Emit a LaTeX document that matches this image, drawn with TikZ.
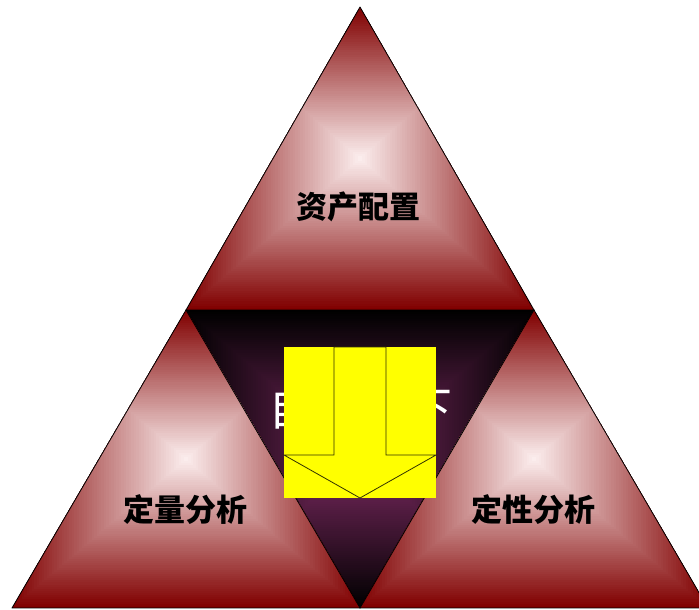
\documentclass[tikz,border=0pt]{standalone}
\usepackage{fontspec}
\newfontfamily\cjk{Noto Sans CJK SC}
\usetikzlibrary{calc}
\definecolor{edgered}{RGB}{128,0,0}
\definecolor{glow}{RGB}{253,240,240}
\definecolor{midpurple}{RGB}{125,42,98}
\definecolor{pureyellow}{RGB}{255,255,0}
\definecolor{arrowline}{RGB}{50,50,0}
% rectangular gradient clipped to a triangle:
% vertices #1 #2 #3, box corners #4 #5, centre #6, inner colour #7, outer colour #8
\newcommand\rectgrad[8]{%
  \begin{scope}
    \clip (#1) -- (#2) -- (#3) -- cycle;
    \foreach \i in {0,...,70}{%
      \pgfmathsetmacro\gradt{\i/70}%
      \pgfmathsetmacro\gradp{100*\gradt}%
      \fill[color=#7!\gradp!#8] ($(#4)!\gradt!(#6)$) rectangle ($(#5)!\gradt!(#6)$);
    }
  \end{scope}}
\tikzset{
  triedge/.style={draw=black, line width=0.8pt, line join=round},
  label/.style={font=\cjk\bfseries\fontsize{31}{31}\selectfont, text=black, inner sep=0pt},
  bigtext/.style={font=\cjk\fontsize{46}{46}\selectfont, text=white, inner sep=0pt},
  arrowfill/.style={fill=pureyellow, draw=none},
  arrowedge/.style={draw=arrowline, line width=0.8pt, line join=miter}
}
\begin{document}
\begin{tikzpicture}[x=1pt,y=-1pt]
\useasboundingbox (0,0) rectangle (699,610);
\clip (0,0) rectangle (699,610);
% vertices
\coordinate (A) at (360,7);
\coordinate (B) at (186,310);
\coordinate (C) at (534,310);
\coordinate (L) at (12,608);
\coordinate (M) at (360,608);
\coordinate (R) at (708,608);
% box corners
\coordinate (TA) at (186,7);
\coordinate (LA) at (12,310);
\coordinate (MA) at (186,310);
\coordinate (RA) at (360,310);
% centres of the gradients
\coordinate (PT) at (360,158.5);
\coordinate (PL) at (186,459);
\coordinate (PR) at (534,459);
\coordinate (PM) at (360,459);
% middle inverted triangle
\rectgrad{B}{C}{M}{MA}{R-|C}{PM}{midpurple}{black}
\draw[triedge] (B) -- (C) -- (M) -- cycle;
% red triangles
\rectgrad{A}{B}{C}{TA}{C}{PT}{glow}{edgered}
\draw[triedge] (A) -- (B) -- (C) -- cycle;
\rectgrad{B}{L}{M}{LA}{M}{PL}{glow}{edgered}
\draw[triedge] (B) -- (L) -- (M) -- cycle;
\rectgrad{C}{M}{R}{RA}{R}{PR}{glow}{edgered}
\draw[triedge] (C) -- (M) -- (R) -- cycle;
% labels
\node[label] (top) at (358,207) {资产配置};
\node[label] (left) at (185,510) {定量分析};
\node[label] (right) at (533,510) {定性分析};
\node[bigtext] (mid) at (360,408) {自上而下};
% yellow arrow
\coordinate (Y1) at (284,347);
\coordinate (Y2) at (436,498);
\fill[arrowfill] (Y1) rectangle (Y2);
\coordinate (S1) at (334,347);
\coordinate (S2) at (334,455);
\coordinate (H1) at (284,455);
\coordinate (Tip) at (360,498);
\coordinate (H2) at (436,455);
\coordinate (S3) at (386,455);
\coordinate (S4) at (386,347);
\draw[arrowedge] (S1) -- (S2) -- (H1) -- (Tip) -- (H2) -- (S3) -- (S4) -- cycle;
\end{tikzpicture}
\end{document}
